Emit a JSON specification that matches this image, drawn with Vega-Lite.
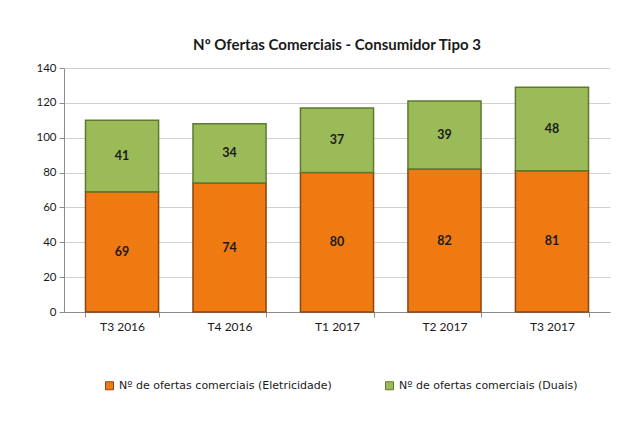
{
  "$schema": "https://vega.github.io/schema/vega-lite/v6.json",
  "autosize": "none",
  "width": 546,
  "height": 244,
  "padding": {"left": 64, "top": 68, "right": 17, "bottom": 118},
  "background": "white",
  "config": {"view": {"stroke": null}},
  "title": {
    "text": "Nº Ofertas Comerciais - Consumidor Tipo 3",
    "font": "Lato",
    "fontSize": 15,
    "fontWeight": "bold",
    "color": "#1a1a1a",
    "offset": 9,
    "anchor": "middle"
  },
  "data": {
    "values": [
      {"period": "T3 2016", "series": "Nº de ofertas comerciais (Eletricidade)", "value": 69},
      {"period": "T3 2016", "series": "Nº de ofertas comerciais (Duais)", "value": 41},
      {"period": "T4 2016", "series": "Nº de ofertas comerciais (Eletricidade)", "value": 74},
      {"period": "T4 2016", "series": "Nº de ofertas comerciais (Duais)", "value": 34},
      {"period": "T1 2017", "series": "Nº de ofertas comerciais (Eletricidade)", "value": 80},
      {"period": "T1 2017", "series": "Nº de ofertas comerciais (Duais)", "value": 37},
      {"period": "T2 2017", "series": "Nº de ofertas comerciais (Eletricidade)", "value": 82},
      {"period": "T2 2017", "series": "Nº de ofertas comerciais (Duais)", "value": 39},
      {"period": "T3 2017", "series": "Nº de ofertas comerciais (Eletricidade)", "value": 81},
      {"period": "T3 2017", "series": "Nº de ofertas comerciais (Duais)", "value": 48}
    ]
  },
  "encoding": {
    "x": {
      "field": "period",
      "type": "nominal",
      "sort": null,
      "scale": {"paddingInner": 0.32, "paddingOuter": 0.2},
      "axis": {
        "title": null,
        "labelAngle": 0,
        "labelFont": "Lato",
        "labelFontSize": 12,
        "labelColor": "#1a1a1a",
        "domainColor": "#8c8c8c",
        "tickColor": "#8c8c8c",
        "tickBand": "extent",
        "tickSize": 5,
        "labelPadding": 4,
        "grid": false
      }
    }
  },
  "layer": [
    {
      "mark": {"type": "bar", "strokeWidth": 1.5},
      "encoding": {
        "y": {
          "field": "value",
          "type": "quantitative",
          "stack": "zero",
          "scale": {"domain": [0, 140], "nice": false},
          "axis": {
            "title": null,
            "values": [0, 20, 40, 60, 80, 100, 120, 140],
            "labelOverlap": false,
            "labelFont": "Lato",
            "labelFontSize": 11.5,
            "labelColor": "#1a1a1a",
            "labelPadding": 3,
            "domainColor": "#8c8c8c",
            "tickColor": "#8c8c8c",
            "tickSize": 5,
            "gridColor": "#d0d0d0"
          }
        },
        "color": {
          "field": "series",
          "type": "nominal",
          "scale": {
            "domain": ["Nº de ofertas comerciais (Eletricidade)", "Nº de ofertas comerciais (Duais)"],
            "range": ["#f07a12", "#9bbb59"]
          },
          "legend": {
            "title": null,
            "orient": "none",
            "direction": "horizontal",
            "legendX": 40,
            "legendY": 312,
            "symbolType": "square",
            "symbolSize": 64,
            "symbolStrokeWidth": 1,
            "labelFont": "DejaVu Sans",
            "labelFontSize": 11,
            "labelColor": "#1a1a1a",
            "labelOffset": 4,
            "labelLimit": 0,
            "columnPadding": 51
          }
        },
        "stroke": {
          "field": "series",
          "type": "nominal",
          "scale": {
            "domain": ["Nº de ofertas comerciais (Eletricidade)", "Nº de ofertas comerciais (Duais)"],
            "range": ["#8a4612", "#5e7a30"]
          },
          "legend": null
        },
        "order": {"field": "series", "sort": "descending"}
      }
    },
    {
      "transform": [
        {"stack": "value", "groupby": ["period"], "sort": [{"field": "series", "order": "descending"}], "as": ["v0", "v1"]},
        {"calculate": "(datum.v0 + datum.v1) / 2", "as": "mid"}
      ],
      "mark": {"type": "text", "font": "Lato", "fontSize": 12.5, "fontWeight": "bold", "color": "#1a1a1a", "baseline": "middle"},
      "encoding": {
        "y": {
          "field": "mid",
          "type": "quantitative",
          "axis": {
            "title": null,
            "values": [0, 20, 40, 60, 80, 100, 120, 140],
            "labelOverlap": false,
            "labelFont": "Lato",
            "labelFontSize": 11.5,
            "labelColor": "#1a1a1a",
            "labelPadding": 3,
            "domainColor": "#8c8c8c",
            "tickColor": "#8c8c8c",
            "tickSize": 5,
            "gridColor": "#d0d0d0"
          }
        },
        "text": {"field": "value", "type": "quantitative"}
      }
    }
  ]
}
